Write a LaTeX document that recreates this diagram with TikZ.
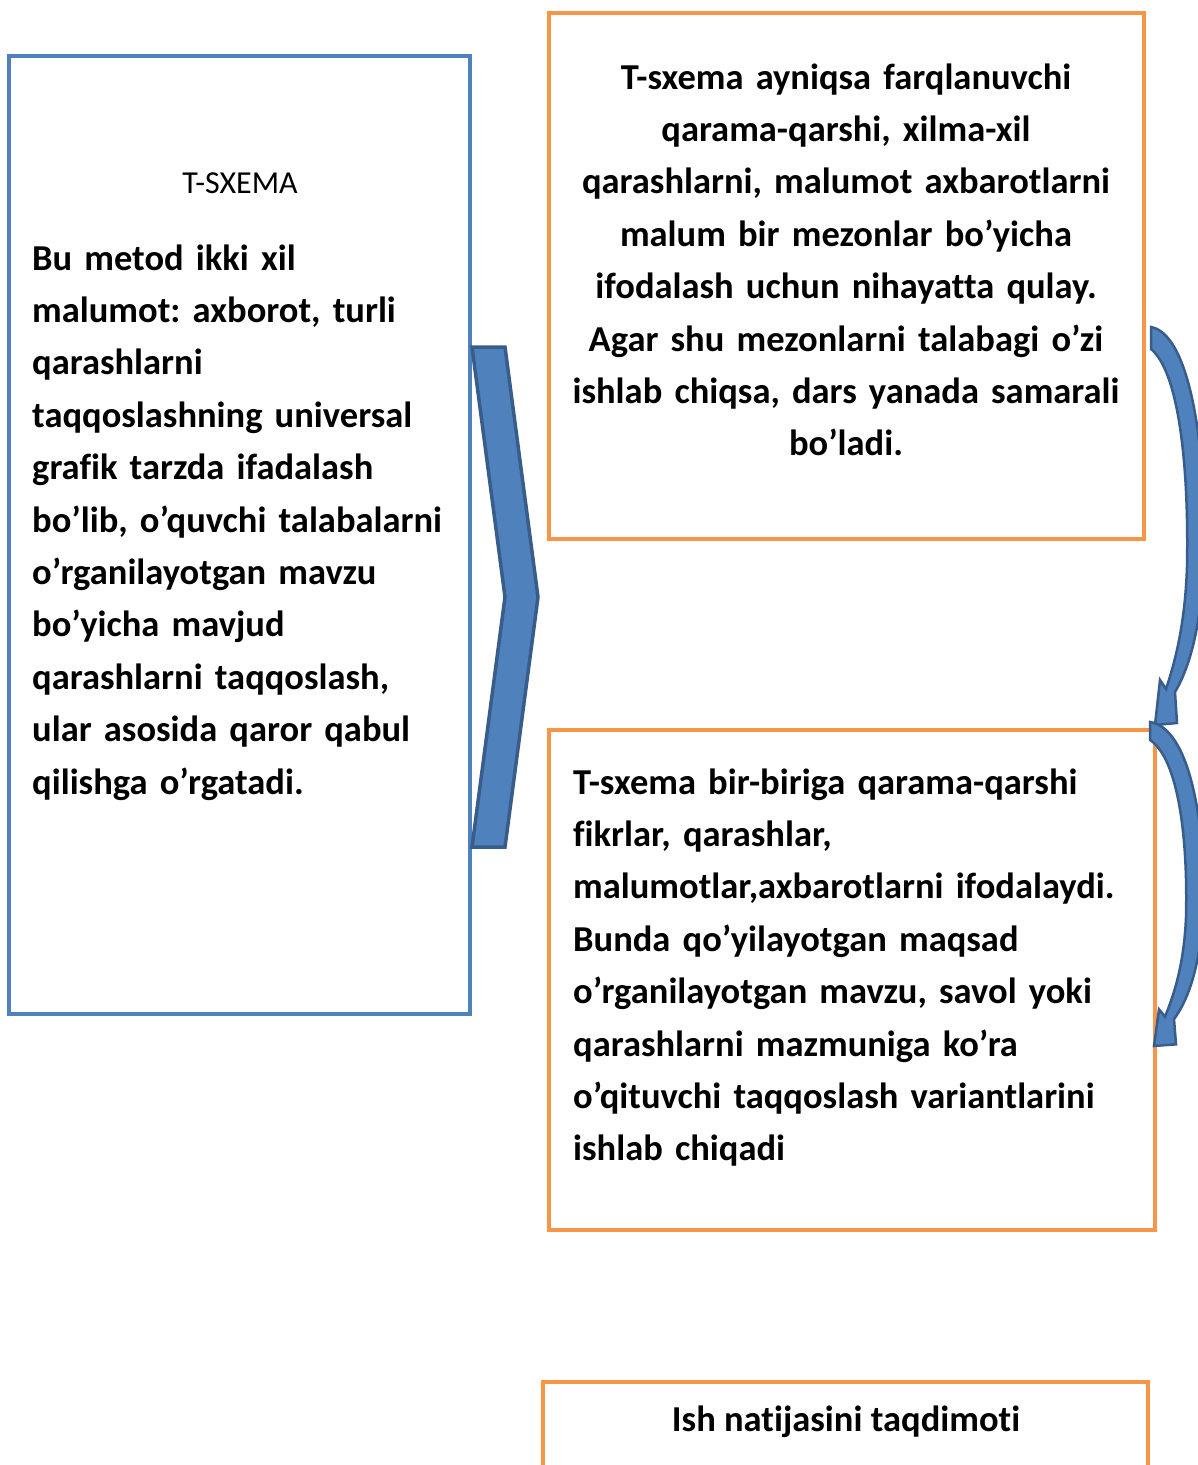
\documentclass[tikz,border=0pt]{standalone}
\usepackage{fontspec}
\setmainfont{Carlito}[Ligatures=NoCommon]
\frenchspacing
\definecolor{boxblue}{HTML}{4F81BD}
\definecolor{darkblue}{HTML}{385D8A}
\definecolor{boxorange}{HTML}{F79646}
\begin{document}
\begin{tikzpicture}[x=1pt,y=-1pt,
  bluebox/.style={draw=boxblue,line width=3.5pt},
  orangebox/.style={draw=boxorange,line width=4pt},
  bodytext/.style={font=\fontsize{36.5}{52.4}\selectfont\bfseries,inner sep=0pt},
  shapeblue/.style={fill=boxblue,draw=darkblue,line width=3.5pt,line join=miter}]
\useasboundingbox (0,0) rectangle (1198,1465);
\fill[white] (0,0) rectangle (1198,1465);
% left box
\draw[bluebox] (9,56) rectangle (470,1014);
\node[font=\fontsize{32}{36}\selectfont,inner sep=0pt,anchor=base] (title) at (240,193) {T-SXEMA};
\node[bodytext,anchor=base west,text width=440pt,align=left] (lefttext) at (32,270) {Bu metod ikki xil\\
malumot: axborot, turli\\
qarashlarni\\
taqqoslashning universal\\
grafik tarzda ifadalash\\
bo’lib, o’quvchi talabalarni\\
o’rganilayotgan mavzu\\
bo’yicha mavjud\\
qarashlarni taqqoslash,\\
ular asosida qaror qabul\\
qilishga o’rgatadi.};
% chevron
\draw[shapeblue] (472,347) -- (505,347) -- (538,597) -- (505,847) -- (472,847) -- (505,597) -- cycle;
% top right box
\draw[orangebox] (549,13) rectangle (1144,539);
\node[bodytext,anchor=base,text width=580pt,align=center] (toptext) at (846,89) {T-sxema ayniqsa farqlanuvchi\\
qarama-qarshi, xilma-xil\\
qarashlarni, malumot axbarotlarni\\
malum bir mezonlar bo’yicha\\
ifodalash uchun nihayatta qulay.\\
Agar shu mezonlarni talabagi o’zi\\
ishlab chiqsa, dars yanada samarali\\
bo’ladi.};
% middle right box
\draw[orangebox] (549,730) rectangle (1155,1230);
\node[bodytext,anchor=base west,text width=600pt,align=left] (midtext) at (573,794) {T-sxema bir-biriga qarama-qarshi\\
fikrlar, qarashlar,\\
malumotlar,axbarotlarni ifodalaydi.\\
Bunda qo’yilayotgan maqsad\\
o’rganilayotgan mavzu, savol yoki\\
qarashlarni mazmuniga ko’ra\\
o’qituvchi taqqoslash variantlarini\\
ishlab chiqadi};
% bottom box
\draw[orangebox] (543,1480) -- (543,1382) -- (1148,1382) -- (1148,1480);
\node[bodytext,anchor=base] (bottomtext) at (846,1431) {Ish natijasini taqdimoti};
% curved arrows
\begin{scope}[shift={(1151,327)}]
\draw[shapeblue,line width=2.5pt] (0,0) .. controls (44,8) and (58,150) .. (52,250)
  .. controls (48,310) and (36,345) .. (24,365) -- (26,396) -- (4,398) -- (9,353) -- (15,362)
  .. controls (23,338) and (34,300) .. (36,240) .. controls (38,140) and (28,45) .. (0,22) -- cycle;
\end{scope}
\begin{scope}[shift={(1150,722)},yscale=0.814]
\draw[shapeblue,line width=2.5pt] (0,0) .. controls (44,8) and (58,150) .. (52,250)
  .. controls (48,310) and (36,345) .. (24,365) -- (26,396) -- (4,398) -- (9,353) -- (15,362)
  .. controls (23,338) and (34,300) .. (36,240) .. controls (38,140) and (28,45) .. (0,22) -- cycle;
\end{scope}
\end{tikzpicture}
\end{document}
